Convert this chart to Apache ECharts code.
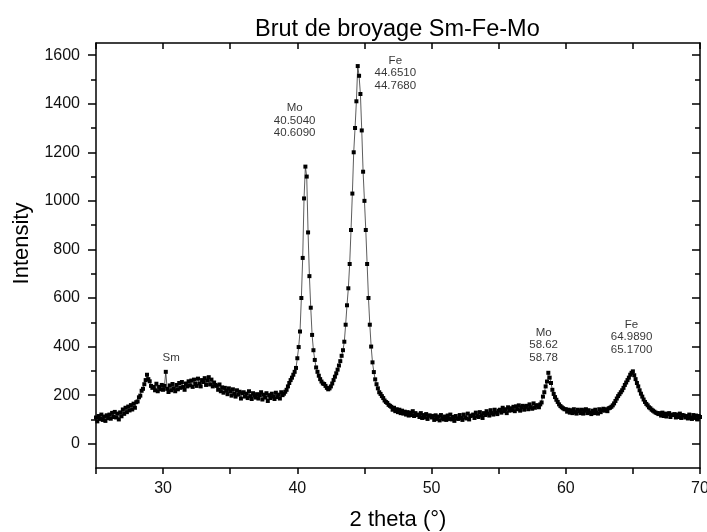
<!DOCTYPE html>
<html>
<head>
<meta charset="utf-8">
<script src="https://cdn.jsdelivr.net/npm/echarts@6/dist/echarts.min.js"></script>
<style>
html,body{margin:0;padding:0;background:#fff;overflow:hidden;}
#chart{position:absolute;left:0;top:0;width:707px;height:532px;}
</style>
</head>
<body>
<div id="chart"></div>
<script>
// 2-theta grid: first angle and step (degrees)
const thetaStart = 25.0;
const thetaStep = 0.1;
// Measured intensity, one row per degree (25.0 ... 70.0)
const intensity = [
  108,92,114,102,120,98,112,94,117,105,
  120,103,127,110,131,108,124,100,129,113,
  141,123,148,130,153,137,159,141,165,148,
  171,174,191,198,218,226,245,262,284,266,
  257,238,230,234,220,247,216,234,224,242,
  222,238,296,226,213,240,220,246,228,216,
  242,224,250,230,254,234,222,248,236,257,
  240,260,234,264,246,238,268,248,236,262,
  254,270,242,260,274,244,264,236,252,242,
  238,222,244,216,232,210,230,218,204,228,
  216,198,224,206,194,220,202,214,186,208,
  212,194,206,188,216,196,184,208,198,190,
  204,186,200,212,182,202,190,208,176,200,
  188,206,194,184,210,192,202,186,212,200,
  206,214,222,236,250,262,272,284,296,312,
  352,398,462,600,765,1010,1141,1100,870,690,
  560,448,385,345,314,296,280,266,256,248,
  246,238,230,224,228,236,248,262,276,290,
  305,322,340,362,385,420,490,570,640,740,
  880,1030,1200,1300,1410,1555,1515,1440,1290,1120,
  1000,880,740,600,490,400,335,295,265,245,
  228,212,205,196,188,178,172,168,160,156,
  152,140,148,134,142,130,140,126,136,124,
  132,120,130,116,128,118,134,114,126,118,
  120,110,126,106,118,108,122,102,116,116,
  108,114,98,117,102,112,96,118,104,100,
  112,98,116,102,120,100,110,94,114,104,
  102,118,106,98,120,108,104,124,100,114,
  116,120,106,128,114,110,130,116,106,126,
  118,134,124,116,138,126,120,140,128,122,
  136,140,128,148,134,142,126,150,136,146,
  138,152,134,154,142,158,136,150,156,140,
  152,156,142,162,150,144,166,148,158,158,
  150,162,170,194,212,236,256,292,272,250,
  222,205,192,181,172,162,155,150,146,142,
  142,132,140,128,138,126,142,130,124,140,
  134,126,140,124,136,142,126,138,128,122,
  136,126,140,128,124,142,130,138,144,136,
  142,134,146,148,152,158,166,176,186,196,
  204,212,220,230,242,252,262,272,284,292,
  298,282,266,250,236,220,206,194,182,172,
  164,158,150,146,140,136,132,128,126,122,
  126,116,128,114,124,112,122,126,110,120,
  118,122,108,120,110,124,106,118,116,108,
  114,104,120,108,102,118,106,116,100,114,
  110
];
// Peak annotations (text and anchor in data coordinates)
const peakLabels = ['Sm', 'Mo\n40.5040\n40.6090', 'Fe\n44.6510\n44.7680', 'Mo\n58.62\n58.78', 'Fe\n64.9890\n65.1700'];
const peakLabelTheta = [30.6, 39.8, 47.3, 58.35, 64.9];
const peakLabelIntensity = [355, 1330, 1527, 407, 440];
// Axis ticks
const xLabelValues = [30, 40, 50, 60, 70];
const yMajor = [0, 200, 400, 600, 800, 1000, 1200, 1400, 1600];
const yMinor = [100, 300, 500, 700, 900, 1100, 1300, 1500];

const data = intensity.map((v, i) => [+(thetaStart + i * thetaStep).toFixed(2), v]);
const annData = peakLabelTheta.map((t, i) => [t, peakLabelIntensity[i]]);

const FONT = 'Liberation Sans, Arial, sans-serif';
const axisLine = { show: true, onZero: false, lineStyle: { color: '#000', width: 1.5 } };
const yCommon = { type: 'value', min: -100, max: 1650, splitLine: { show: false } };
const tickStyle = { color: '#000', width: 1.5 };

const el = document.getElementById('chart');
const chart = echarts.init(el, null, { renderer: 'canvas', width: 707, height: 532 });
chart.setOption({
  animation: false,
  backgroundColor: '#fff',
  title: {
    text: 'Brut de broyage Sm-Fe-Mo',
    left: 250, top: 13,
    textStyle: { fontFamily: FONT, fontSize: 23.5, fontWeight: 'normal', color: '#000' }
  },
  grid: { left: 96, right: 7, top: 43, bottom: 64, outerBoundsMode: 'none', containLabel: false },
  xAxis: [
    {
      type: 'value', min: 25, max: 70, interval: 5,
      name: '2 theta (°)', nameLocation: 'middle', nameGap: 41,
      nameTextStyle: { fontFamily: FONT, fontSize: 22, color: '#000' },
      axisLine: axisLine,
      axisTick: { show: true, length: 6, lineStyle: tickStyle },
      axisLabel: { customValues: xLabelValues, fontFamily: FONT, fontSize: 16, color: '#111', margin: 13 },
      splitLine: { show: false }
    },
    {
      type: 'value', min: 25, max: 70, interval: 5, position: 'top',
      axisLine: axisLine,
      axisTick: { show: true, inside: true, length: 6, lineStyle: tickStyle },
      axisLabel: { show: false },
      splitLine: { show: false }
    }
  ],
  yAxis: [
    Object.assign({}, yCommon, {
      position: 'left',
      name: 'Intensity', nameLocation: 'middle', nameGap: 63, nameRotate: 90,
      nameTextStyle: { fontFamily: FONT, fontSize: 22, color: '#000', padding: [0, 0, 0, 24] },
      axisLine: axisLine,
      axisTick: { show: true, customValues: yMajor, length: 8, lineStyle: tickStyle },
      axisLabel: { customValues: yMajor, formatter: v => String(v), fontFamily: FONT, fontSize: 16, color: '#111', margin: 16 }
    }),
    Object.assign({}, yCommon, {
      position: 'left',
      axisLine: { show: false },
      axisTick: { show: true, customValues: yMinor, length: 5, lineStyle: tickStyle },
      axisLabel: { show: false }
    }),
    Object.assign({}, yCommon, {
      position: 'right',
      axisLine: axisLine,
      axisTick: { show: true, inside: true, customValues: yMajor, length: 8, lineStyle: tickStyle },
      axisLabel: { show: false }
    }),
    Object.assign({}, yCommon, {
      position: 'right',
      axisLine: { show: false },
      axisTick: { show: true, inside: true, customValues: yMinor, length: 5, lineStyle: tickStyle },
      axisLabel: { show: false }
    })
  ],
  series: [
    {
      type: 'line',
      xAxisIndex: 0, yAxisIndex: 0,
      data: data,
      symbol: 'rect',
      symbolSize: 4,
      showSymbol: true,
      showAllSymbol: true,
      itemStyle: { color: '#000' },
      lineStyle: { color: '#333', width: 0.8 }
    },
    {
      type: 'scatter',
      xAxisIndex: 0, yAxisIndex: 0,
      data: annData,
      symbolSize: 0,
      silent: true,
      label: {
        show: true,
        position: 'inside',
        formatter: p => peakLabels[p.dataIndex],
        fontFamily: FONT, fontSize: 11.5, lineHeight: 12.5, color: '#000', align: 'center', verticalAlign: 'middle'
      }
    }
  ]
});
</script>
</body>
</html>
